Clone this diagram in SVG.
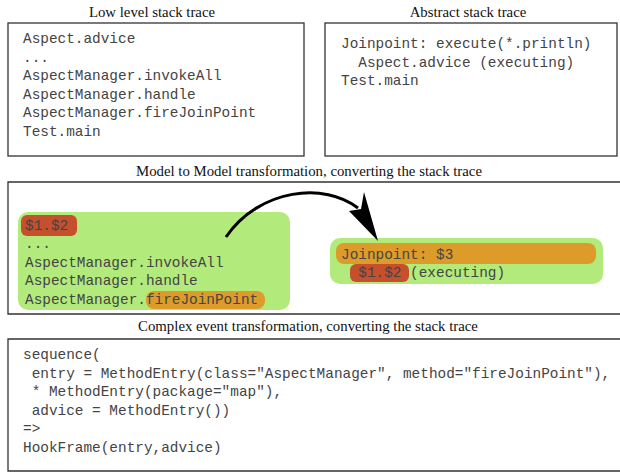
<svg xmlns="http://www.w3.org/2000/svg" width="620" height="473" viewBox="0 0 620 473">
<style>
.title{font-family:"Liberation Serif",serif;font-size:14.8px;fill:#111;text-anchor:middle}
.code{font-family:"Liberation Mono",monospace;font-size:14.4px;fill:#444;white-space:pre}
.box{fill:#fff;stroke:#333;stroke-width:1.3}
.green{fill:#b3ea7c}
.orange{fill:#dd9c2a}
.red{fill:#c6502e}
</style>
<rect width="620" height="473" fill="#fff"/>
<g id="low-level">
<text class="title" x="152" y="17">Low level stack trace</text>
<rect class="box" x="8" y="23" width="296" height="133"/>
<text class="code" x="23" y="43">Aspect.advice</text>
<text class="code" x="23" y="62">...</text>
<text class="code" x="23" y="80">AspectManager.invokeAll</text>
<text class="code" x="23" y="99">AspectManager.handle</text>
<text class="code" x="23" y="117">AspectManager.fireJoinPoint</text>
<text class="code" x="23" y="136">Test.main</text>
</g>
<g id="abstract">
<text class="title" x="468" y="17">Abstract stack trace</text>
<rect class="box" x="325" y="23" width="292" height="133"/>
<text class="code" x="341" y="48">Joinpoint: execute(*.println)</text>
<text class="code" x="341" y="67">  Aspect.advice (executing)</text>
<text class="code" x="341" y="85">Test.main</text>
</g>
<g id="model-to-model">
<text class="title" x="309" y="176">Model to Model transformation, converting the stack trace</text>
<path d="M621,182 H8 V314 H621" class="box"/>
<g id="source-pattern">
<rect class="green" x="18" y="212" width="272" height="98" rx="10"/>
<rect class="red" x="21" y="215" width="56" height="21" rx="6"/>
<rect class="orange" x="146" y="291" width="119" height="18" rx="8"/>
<text class="code" x="25" y="230">$1.$2</text>
<text class="code" x="25" y="248">...</text>
<text class="code" x="25" y="267">AspectManager.invokeAll</text>
<text class="code" x="25" y="285">AspectManager.handle</text>
<text class="code" x="25" y="304">AspectManager.fireJoinPoint</text>
</g>
<g id="target-pattern">
<rect class="green" x="330" y="238" width="273" height="46" rx="10"/>
<rect class="orange" x="336" y="243" width="260" height="21" rx="8"/>
<rect class="red" x="350" y="264" width="59" height="18" rx="6"/>
<text class="code" x="341" y="259">Joinpoint: $3</text>
<text class="code" x="341" y="277">  $1.$2 (executing)</text>
</g>
</g>
<g id="connectors">
<path d="M226,237 C260,188 325,182 358,208" fill="none" stroke="#000" stroke-width="3"/>
<polygon points="349,211 378,241 364,192 361,209" fill="#000"/>
</g>
<g id="complex-event">
<text class="title" x="308" y="331">Complex event transformation, converting the stack trace</text>
<path d="M621,339 H8 V471 H621" class="box"/>
<text class="code" x="23" y="359">sequence(</text>
<text class="code" x="23" y="378"> entry = MethodEntry(class="AspectManager", method="fireJoinPoint"),</text>
<text class="code" x="23" y="396"> * MethodEntry(package="map"),</text>
<text class="code" x="23" y="415"> advice = MethodEntry())</text>
<text class="code" x="23" y="433">=&gt;</text>
<text class="code" x="23" y="452">HookFrame(entry,advice)</text>
</g>
</svg>
